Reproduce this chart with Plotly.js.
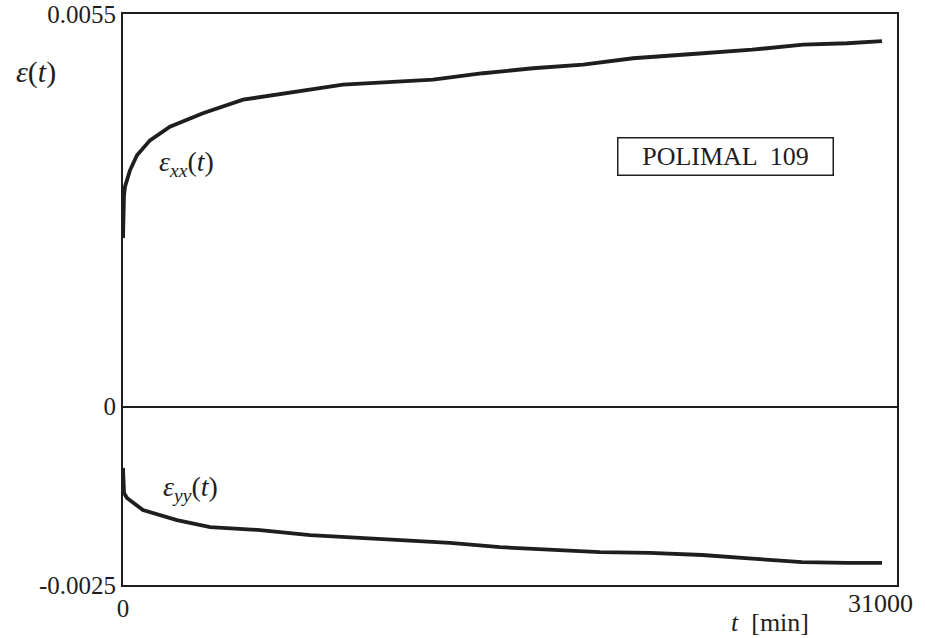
<!DOCTYPE html>
<html>
<head>
<meta charset="utf-8">
<script src="https://cdn.plot.ly/plotly-3.0.1.min.js"></script>
<style>html,body{margin:0;padding:0;background:#fff;}#chart{width:925px;height:638px;}</style>
</head>
<body>
<div id="chart"></div>
<script>
// time in minutes
const tXX = [0, 20, 40, 80, 280, 560, 1080, 1880, 3200, 4810, 6810, 8810, 10800, 12420, 14420, 16420, 18430, 20430, 23230, 25200, 27240, 29000, 30400];
const epsXX = [0.00236, 0.00275, 0.00296, 0.00308, 0.00331, 0.00352, 0.00373, 0.00392, 0.00411, 0.00430, 0.00441, 0.00451, 0.00455, 0.00458, 0.00467, 0.00474, 0.00479, 0.00488, 0.00495, 0.00500, 0.00507, 0.00509, 0.00512];

const tYY = [0, 15, 40, 160, 800, 2160, 3490, 5490, 7490, 9490, 11100, 13100, 15100, 17100, 19100, 21100, 23200, 25200, 27200, 29000, 30400];
const epsYY = [-0.00086, -0.00115, -0.00121, -0.00128, -0.00145, -0.00159, -0.00169, -0.00173, -0.00180, -0.00184, -0.00187, -0.00191, -0.00197, -0.00201, -0.00204, -0.00205, -0.00208, -0.00213, -0.00218, -0.00219, -0.00219];

const xTicks = [0];
const xTickText = ['0'];
const xEndLabel = '31000';
const xEnd = 31000;
const yTicks = [-0.0025, 0, 0.0055];
const yTickText = ['-0.0025', '0', '0.0055'];

const labelXX = '<i>ε<sub>xx</sub></i>(<i>t</i>)';
const labelYY = '<i>ε<sub>yy</sub></i>(<i>t</i>)';
const yTitle = '<i>ε</i>(<i>t</i>)';
const xTitle = '<i>t</i>  [min]';
const boxLabel = 'POLIMAL  109';

const serif = 'Liberation Serif, Times New Roman, serif';
const ink = '#1e1e1e';

const traces = [
  {x: tXX, y: epsXX, type: 'scatter', mode: 'lines', line: {color: ink, width: 3.8}, name: 'εxx', hoverinfo: 'skip'},
  {x: tYY, y: epsYY, type: 'scatter', mode: 'lines', line: {color: ink, width: 3.8}, name: 'εyy', hoverinfo: 'skip'}
];

const layout = {
  width: 925, height: 638,
  margin: {l: 123, r: 28, t: 14, b: 53},
  paper_bgcolor: '#fff', plot_bgcolor: '#fff',
  showlegend: false,
  font: {family: serif, size: 25, color: ink},
  xaxis: {
    range: [0, xEnd], tickvals: xTicks, ticktext: xTickText,
    showgrid: false, zeroline: false, showline: true, mirror: true,
    linecolor: ink, linewidth: 2, ticks: '', ticklabeloverflow: 'allow',
    tickfont: {family: serif, size: 25, color: ink}
  },
  yaxis: {
    range: [-0.0025, 0.0055], tickvals: yTicks, ticktext: yTickText,
    showgrid: false, zeroline: true, zerolinecolor: ink, zerolinewidth: 2,
    showline: true, mirror: true, linecolor: ink, linewidth: 2, ticks: '',
    tickfont: {family: serif, size: 25, color: ink}
  },
  annotations: [
    {xref: 'paper', yref: 'paper', x: -0.1124, y: 0.898, xanchor: 'center', yanchor: 'middle', text: yTitle, showarrow: false, font: {family: serif, size: 30, color: ink}},
    {xref: 'paper', yref: 'paper', x: 0.836, y: -0.065, xanchor: 'center', yanchor: 'middle', text: xTitle, showarrow: false, font: {family: serif, size: 26, color: ink}},
    {xref: 'x', yref: 'paper', x: xEnd, y: -0.032, xanchor: 'right', yanchor: 'middle', xshift: 18, text: xEndLabel, showarrow: false, font: {family: serif, size: 26, color: ink}},
    {xref: 'x', yref: 'y', x: 2550, y: 0.00341, xanchor: 'center', yanchor: 'middle', text: labelXX, showarrow: false, font: {family: serif, size: 28, color: ink}},
    {xref: 'x', yref: 'y', x: 2700, y: -0.00115, xanchor: 'center', yanchor: 'middle', text: labelYY, showarrow: false, font: {family: serif, size: 28, color: ink}},
    {xref: 'x', yref: 'y', x: 24150, y: 0.00351, xanchor: 'center', yanchor: 'middle', text: boxLabel, showarrow: false,
     font: {family: serif, size: 26, color: ink}, bordercolor: ink, borderwidth: 1.5, borderpad: 3,
     width: 208, height: 30, bgcolor: '#fff'}
  ]
};

Plotly.newPlot('chart', traces, layout, {staticPlot: true, displayModeBar: false});
</script>
</body>
</html>
